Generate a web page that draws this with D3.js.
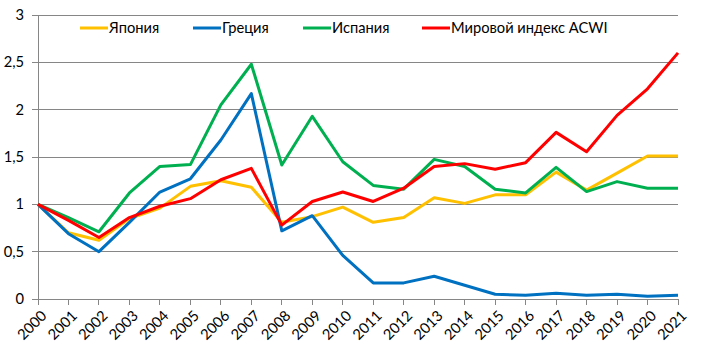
<!DOCTYPE html>
<html><head><meta charset="utf-8">
<script src="https://cdn.jsdelivr.net/npm/d3@7"></script>
<style>body{margin:0;background:#fff}svg{display:block;font-family:Lato,"Noto Sans",sans-serif}</style>
</head><body><svg id="c" width="701" height="362"></svg>
<script>
const years = ["2000","2001","2002","2003","2004","2005","2006","2007","2008","2009","2010","2011","2012","2013","2014","2015","2016","2017","2018","2019","2020","2021"];
const japan = [1.0,0.70,0.62,0.85,0.96,1.19,1.25,1.18,0.81,0.87,0.97,0.81,0.86,1.07,1.01,1.10,1.10,1.34,1.15,1.33,1.51,1.51];
const greece = [1.0,0.69,0.50,0.81,1.13,1.27,1.68,2.17,0.72,0.88,0.46,0.17,0.17,0.24,0.145,0.05,0.04,0.06,0.04,0.05,0.03,0.04];
const spain = [1.0,0.86,0.71,1.12,1.40,1.42,2.05,2.48,1.415,1.93,1.45,1.20,1.16,1.475,1.40,1.16,1.12,1.39,1.135,1.24,1.17,1.17];
const world = [1.0,0.83,0.65,0.86,0.98,1.06,1.26,1.38,0.78,1.03,1.13,1.03,1.17,1.40,1.43,1.37,1.44,1.76,1.555,1.94,2.22,2.60];
const yTicks = [0,0.5,1,1.5,2,2.5,3];
const yTickLabels = ["0","0,5","1","1,5","2","2,5","3"];
const seriesNames = ["Япония","Греция","Испания","Мировой индекс ACWI"];
const seriesColors = ["#FFC000","#0070C0","#00B050","#FF0000"];
const seriesData = [japan, greece, spain, world];

const svg = d3.select("#c");
const x = d3.scalePoint().domain(years).range([38, 678]);
const y = d3.scaleLinear().domain([0,3]).range([299, 15]);

svg.append("g").selectAll("line").data(yTicks).join("line")
  .attr("x1", 32).attr("x2", 678).attr("y1", d=>y(d)).attr("y2", d=>y(d))
  .attr("stroke", "#868686").attr("stroke-width", 1).attr("shape-rendering","crispEdges");
svg.append("line").attr("x1",38).attr("x2",38).attr("y1",y(3)).attr("y2",y(0))
  .attr("stroke","#868686").attr("shape-rendering","crispEdges");
svg.append("g").selectAll("text").data(yTicks).join("text")
  .attr("x", 24).attr("y", d=>y(d)).attr("dy","0.35em").attr("text-anchor","end")
  .attr("font-size", 14.7).attr("fill","#000").text((d,i)=>yTickLabels[i]);
svg.append("g").selectAll("line").data(years).join("line")
  .attr("x1", d=>x(d)).attr("x2", d=>x(d)).attr("y1", 299).attr("y2", 305)
  .attr("stroke","#868686").attr("shape-rendering","crispEdges");
svg.append("g").selectAll("text").data(years).join("text")
  .attr("text-anchor","end").attr("font-size",14.7).attr("fill","#000")
  .attr("transform", d=>`translate(${x(d)+6},${313}) rotate(-45)`)
  .attr("dy","0.35em").text(d=>d);

const line = d3.line().x((d,i)=>x(years[i])).y(d=>y(d));
seriesData.forEach((s,k)=>{
  svg.append("path").datum(s).attr("d", line).attr("fill","none")
    .attr("stroke", seriesColors[k]).attr("stroke-width", 3).attr("stroke-linejoin","round");
});

const legX = [80, 193, 303, 422];
const lg = svg.append("g");
seriesNames.forEach((n,k)=>{
  lg.append("line").attr("x1",legX[k]).attr("x2",legX[k]+28).attr("y1",28).attr("y2",28)
    .attr("stroke",seriesColors[k]).attr("stroke-width",3);
  lg.append("text").attr("x",legX[k]+29).attr("y",28).attr("dy","0.35em")
    .attr("font-size",14.7).attr("fill","#000").text(n);
});
</script></body></html>
